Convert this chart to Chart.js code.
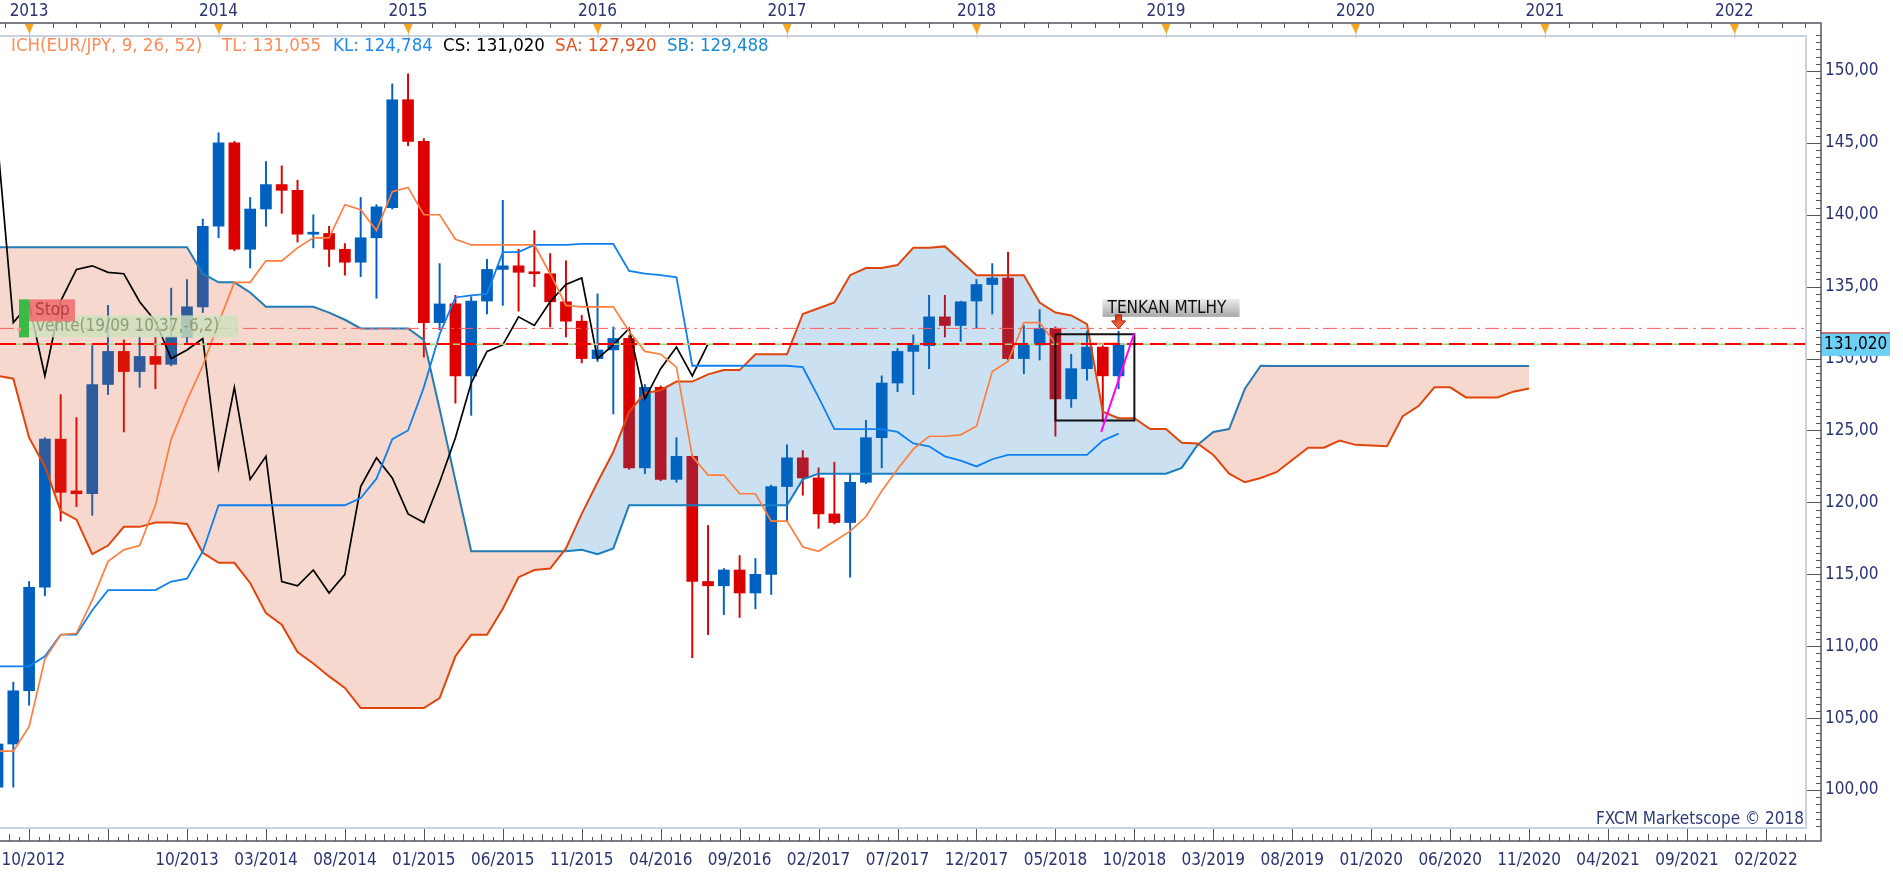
<!DOCTYPE html>
<html>
<head>
<meta charset="utf-8">
<title>EUR/JPY Ichimoku</title>
<script src="https://cdn.jsdelivr.net/npm/chart.js@4.4.1/dist/chart.umd.min.js"></script>
<style>
  html, body { margin: 0; padding: 0; background: #fff; overflow: hidden; }
  #wrap { width: 1903px; height: 874px; }
</style>
</head>
<body>
<div id="wrap"><canvas id="ich"></canvas></div>
<script>
// x is a month index: 0 sits under the "2013" marker, one step per candle
var firstIdx = -2;

var opens = [100.2, 103.2, 106.9, 114.1, 124.4, 120.8, 120.6, 128.2, 130.5, 129.1, 130.15, 129.6, 131.5, 133.6,
  139.2, 145.0, 137.6, 140.4, 142.1, 141.7, 138.65, 138.7, 137.6, 136.7, 138.4, 140.5,
  148.0, 145.1, 132.5, 133.8, 128.8, 134.0, 136.2, 136.45, 136.0, 135.9, 133.95, 132.6,
  130.0, 130.6, 131.4, 122.4, 128.0, 121.6, 123.2, 114.5, 114.2, 115.3, 113.7, 115.0,
  121.1, 123.1, 121.7, 119.2, 118.6, 121.4, 124.5, 128.3, 130.5, 130.9, 132.9, 132.3,
  134.0, 135.15, 135.6, 130.0, 130.95, 132.1, 127.2, 129.3, 130.8, 128.8];
var highs = [103.4, 107.5, 114.5, 124.5, 127.5, 125.9, 130.9, 133.7, 131.3, 131.5, 131.5, 134.9, 135.5, 139.7,
  145.7, 145.1, 141.2, 143.7, 143.4, 142.4, 140.0, 139.2, 138.0, 141.2, 140.7, 149.1,
  149.8, 145.3, 136.6, 134.4, 134.3, 136.9, 141.0, 137.6, 138.9, 137.3, 136.8, 133.0,
  134.5, 132.2, 131.6, 128.2, 128.1, 124.5, 123.3, 118.4, 115.4, 116.3, 116.1, 121.2,
  124.0, 123.6, 122.4, 122.8, 122.0, 125.7, 128.8, 130.7, 131.65, 134.4, 134.4, 134.0,
  135.5, 136.6, 137.4, 132.3, 133.4, 132.2, 130.3, 131.9, 130.9, 131.9];
var lows = [99.9, 100.2, 105.9, 113.5, 118.7, 119.7, 119.1, 127.5, 124.9, 128.0, 127.9, 129.5, 131.0, 133.2,
  138.4, 137.5, 136.3, 139.2, 140.1, 138.1, 137.7, 136.4, 135.8, 135.7, 134.2, 140.4,
  144.8, 130.1, 132.0, 126.9, 126.05, 133.1, 133.7, 133.3, 135.0, 132.2, 131.5, 129.7,
  129.8, 126.15, 122.3, 122.0, 121.5, 121.4, 109.2, 110.8, 112.2, 112.0, 112.6, 113.6,
  118.7, 120.5, 118.2, 118.5, 114.8, 121.3, 122.4, 127.7, 127.5, 129.3, 131.5, 131.2,
  132.1, 133.1, 129.9, 128.95, 129.9, 124.6, 126.6, 128.5, 125.6, 127.9];
var closes = [103.2, 106.9, 114.1, 124.4, 120.7, 120.6, 128.2, 130.5, 129.1, 130.15, 129.6, 131.5, 133.6, 139.2,
  145.0, 137.6, 140.4, 142.1, 141.7, 138.65, 138.7, 137.6, 136.7, 138.4, 140.55, 148.0,
  145.1, 132.5, 133.8, 128.8, 134.0, 136.2, 136.45, 136.0, 135.9, 133.95, 132.6, 130.0,
  130.6, 131.4, 122.4, 128.0, 121.6, 123.2, 114.5, 114.2, 115.3, 113.7, 115.0, 121.1,
  123.1, 121.7, 119.2, 118.6, 121.4, 124.5, 128.3, 130.5, 130.95, 132.9, 132.3, 133.95,
  135.15, 135.6, 130.0, 130.95, 132.1, 127.2, 129.3, 130.8, 128.8, 131.02];

// Tenkan (TL) and Kijun (KL), same months as the candles
var tenkan = [102.7, 102.7, 104.4, 109.1, 110.8, 110.9, 113.2, 115.9, 116.7, 117.0, 119.8, 124.4, 127.1, 129.5,
  132.5, 135.3, 135.3, 136.8, 136.8, 137.7, 138.4, 138.4, 140.7, 140.35, 138.9, 141.6,
  141.9, 140.0, 140.0, 138.3, 137.9, 137.9, 137.9, 137.9, 137.9, 135.9, 133.7, 133.6,
  133.6, 133.6, 131.9, 130.5, 130.3, 129.4, 123.2, 121.9, 121.9, 120.6, 120.6, 118.7,
  118.7, 116.9, 116.6, 117.3, 118.0, 119.0, 120.8, 122.3, 123.7, 124.6, 124.6, 124.7,
  125.3, 129.1, 129.8, 132.5, 132.5, 131.05, 131.05, 131.05, 131.05, 131.055];
var kijun = [108.6, 108.6, 108.6, 109.3, 110.8, 110.8, 112.5, 113.9, 113.9, 113.9, 113.9, 114.5, 114.7, 116.6,
  119.8, 119.8, 119.8, 119.8, 119.8, 119.8, 119.8, 119.8, 119.8, 120.3, 121.65, 124.4,
  125.0, 128.0, 131.7, 134.25, 134.4, 134.5, 137.4, 137.4, 137.9, 137.9, 137.9, 137.97,
  137.97, 137.97, 136.1, 135.9, 135.8, 135.65, 129.5, 129.5, 129.5, 129.5, 129.5, 129.5,
  129.5, 129.4, 127.3, 125.1, 125.1, 125.1, 125.1, 124.9, 124.1, 123.9, 123.2, 122.9,
  122.5, 123.0, 123.3, 123.3, 123.3, 123.3, 123.3, 123.3, 124.3, 124.784];
// Chikou (CS), from month -2 to month 43
var chikou = [145.1, 132.5, 133.8, 128.8, 134.0, 136.2, 136.45, 136.0, 135.9, 133.95, 132.6, 130.0,
  130.6, 131.4, 122.4, 128.0, 121.6, 123.2, 114.5, 114.2, 115.3, 113.7, 115.0, 121.1,
  123.1, 121.7, 119.2, 118.6, 121.4, 124.5, 128.3, 130.5, 130.95, 132.9, 132.3, 133.95,
  135.15, 135.6, 130.0, 130.95, 132.1, 127.2, 129.3, 130.8, 128.8, 131.02];
// Senkou A / B, from month -2 to month 95
var senkouA = [128.8, 128.6, 124.5, 122.5, 119.4, 118.8, 116.4, 117.0, 118.3, 118.3, 118.6, 118.6, 118.5,
  116.5, 115.8, 115.8, 114.4, 112.3, 111.5, 109.6, 108.8, 107.9, 107.1, 105.7, 105.7,
  105.7, 105.7, 105.7, 106.4, 109.3, 110.8, 110.8, 112.6, 114.8, 115.3, 115.4, 116.8,
  119.2, 121.4, 123.5, 126.3, 127.6, 127.8, 128.4, 128.4, 128.9, 129.2, 129.2, 130.3,
  130.3, 130.3, 133.1, 133.5, 133.9, 135.8, 136.3, 136.3, 136.5, 137.7, 137.7, 137.8,
  136.8, 135.8, 135.8, 135.8, 135.8, 133.9, 133.2, 133.0, 132.4, 126.3, 125.85, 125.85,
  125.1, 125.1, 124.15, 124.1, 123.3, 122.0, 121.4, 121.7, 122.1, 122.95, 123.8, 123.8,
  124.3, 124.0, 123.95, 123.9, 126.0, 126.7, 128.0, 128.0, 127.3, 127.3, 127.3, 127.7, 127.92];
var senkouB = [137.74, 137.74, 137.74, 137.74, 137.74, 137.74, 137.74, 137.74, 137.74, 137.74, 137.74, 137.74, 137.74,
  135.9, 135.3, 135.3, 134.6, 133.6, 133.6, 133.6, 133.6, 133.2, 132.7, 132.1, 132.1,
  132.1, 132.1, 131.3, 126.5, 121.5, 116.6, 116.6, 116.6, 116.6, 116.6, 116.6, 116.6,
  116.7, 116.4, 116.8, 119.8, 119.8, 119.8, 119.8, 119.8, 119.8, 119.8, 119.8, 119.8,
  119.8, 119.8, 121.6, 122.0, 122.0, 122.0, 122.0, 122.0, 122.0, 122.0, 122.0, 122.0,
  122.0, 122.0, 122.0, 122.0, 122.0, 122.0, 122.0, 122.0, 122.0, 122.0, 122.0, 122.0,
  122.0, 122.0, 122.4, 124.0, 124.9, 125.1, 127.9, 129.5, 129.488, 129.488, 129.488, 129.488,
  129.488, 129.488, 129.488, 129.488, 129.488, 129.488, 129.488, 129.488, 129.488, 129.488, 129.488, 129.488, 129.488];

// levels and drawing tools on the chart
var lastClose = 131.02;
var stopLevel = 132.1;
var venteLevel = 131.0;
var boxIdx = [65, 70];
var boxVal = [125.7, 131.7];
var trendIdx = [67.9, 70.0];
var trendVal = [124.9, 131.8];
var tagIdx = 69;
var tagVal = 132.9;

// axes
var viewMin = -1.843, viewMax = 112.6;
var yMin = 97.29, yMax = 152.5;
var yTicks = [100, 105, 110, 115, 120, 125, 130, 135, 140, 145, 150];
var yearIdx = [0, 12, 24, 36, 48, 60, 72, 84, 96, 108];
var yearLabels = ['2013', '2014', '2015', '2016', '2017', '2018', '2019', '2020', '2021', '2022'];
var monthIdx = [0.27, 10, 15, 20, 25, 30, 35, 40, 45, 50, 55, 60, 65, 70, 75, 80, 85, 90, 95, 100, 105, 110];
var monthLabels = ['10/2012', '10/2013', '03/2014', '08/2014', '01/2015', '06/2015', '11/2015', '04/2016',
  '09/2016', '02/2017', '07/2017', '12/2017', '05/2018', '10/2018', '03/2019', '08/2019', '01/2020',
  '06/2020', '11/2020', '04/2021', '09/2021', '02/2022'];

var fam = '"DejaVu Sans Condensed", "Liberation Sans", sans-serif';
var tickFont = { family: fam, size: 17 };
var axisInk = '#2b3470';

function series(vals) {
  return vals.map(function (v, k) { return { x: firstIdx + k, y: v }; });
}
function flat(level) {
  return [{ x: viewMin, y: level }, { x: viewMax, y: level }];
}

var bodies = closes.map(function (c, k) { return { x: firstIdx + k, y: [opens[k], c] }; });
var wicks = closes.map(function (c, k) { return { x: firstIdx + k, y: [lows[k], highs[k]] }; });
var candleColor = closes.map(function (c, k) { return c >= opens[k] ? '#0060bf' : '#dd0000'; });

function line(data, color, width, order) {
  return { type: 'line', data: data, borderColor: color, borderWidth: width, pointRadius: 0,
    tension: 0, fill: false, order: order, xAxisID: 'x', yAxisID: 'y' };
}

var datasets = [
  { type: 'bar', data: wicks, backgroundColor: candleColor, barThickness: 1.3, grouped: false, order: 20, xAxisID: 'x', yAxisID: 'y' },
  { type: 'bar', data: bodies, backgroundColor: candleColor, barThickness: 11, grouped: false, minBarLength: 2, order: 19, xAxisID: 'x', yAxisID: 'y' },
  line(series(senkouB), '#1581c4', 2, 12),
  line(series(senkouA), '#e0460c', 2, 11),
  line(series(chikou), '#000000', 1.7, 6),
  line(series(kijun), '#0f80f0', 1.8, 5),
  line(series(tenkan), '#ff7e3e', 1.7, 4),
  line(flat(venteLevel), '#a9d18e', 1.5, 3),
  line(flat(lastClose), '#ff0000', 2, 2),
  line(flat(stopLevel), '#ff5a5a', 1, 2),
  line([{ x: boxIdx[0], y: boxVal[1] }, { x: boxIdx[1], y: boxVal[1] }, { x: boxIdx[1], y: boxVal[0] },
        { x: boxIdx[0], y: boxVal[0] }, { x: boxIdx[0], y: boxVal[1] }], '#111111', 2, 1),
  line([{ x: trendIdx[0], y: trendVal[0] }, { x: trendIdx[1], y: trendVal[1] }], '#ff00ff', 2, 0)
];
datasets[3].fill = { target: 2, above: 'rgba(12,116,194,0.216)', below: 'rgba(213,75,34,0.216)' };
datasets[8].borderDash = [16, 7];
datasets[9].borderDash = [14, 5, 3, 5];

var frame = {
  id: 'frame',
  afterDraw: function (chart) {
    var ctx = chart.ctx, a = chart.chartArea;
    var xs = chart.scales.x, ys = chart.scales.y;
    var topY = a.top - 12, botY = a.bottom + 12, rightX = a.right + 14;
    var k, px, py, len;
    ctx.save();

    // light plot border
    ctx.strokeStyle = '#c9d2de';
    ctx.lineWidth = 2;
    ctx.beginPath();
    ctx.moveTo(a.left, a.top + 1);
    ctx.lineTo(a.right - 1, a.top + 1);
    ctx.lineTo(a.right - 1, a.bottom - 1);
    ctx.lineTo(a.left, a.bottom - 1);
    ctx.stroke();

    // axis frame
    ctx.strokeStyle = '#50555f';
    ctx.lineWidth = 1.5;
    ctx.beginPath();
    ctx.moveTo(a.left, topY);
    ctx.lineTo(rightX, topY);
    ctx.lineTo(rightX, botY);
    ctx.lineTo(a.left, botY);
    ctx.stroke();

    // tick marks
    ctx.lineWidth = 1;
    ctx.beginPath();
    for (k = Math.ceil(viewMin / 0.625); k * 0.625 <= viewMax; k++) {
      px = Math.round(xs.getPixelForValue(k * 0.625)) + 0.5;
      len = k % 8 === 0 ? 12 : (k % 2 === 0 ? 7 : 4);
      ctx.moveTo(px, botY);
      ctx.lineTo(px, botY - len);
    }
    for (k = Math.ceil(viewMin / 1.5); k * 1.5 <= viewMax; k++) {
      if (k % 8 === 0) continue;
      px = Math.round(xs.getPixelForValue(k * 1.5)) + 0.5;
      ctx.moveTo(px, topY);
      ctx.lineTo(px, topY + 5);
    }
    for (k = Math.ceil(yMin / 0.5); k * 0.5 <= yMax; k++) {
      py = Math.round(ys.getPixelForValue(k * 0.5)) + 0.5;
      len = k % 10 === 0 ? 14 : 5;
      ctx.moveTo(rightX, py);
      ctx.lineTo(rightX - len, py);
    }
    ctx.stroke();

    // year markers on the top axis
    yearIdx.forEach(function (v) {
      var p = xs.getPixelForValue(v);
      ctx.strokeStyle = '#c4c4c4';
      ctx.beginPath();
      ctx.moveTo(p + 0.5, topY + 9);
      ctx.lineTo(p + 0.5, a.top + 3);
      ctx.stroke();
      ctx.fillStyle = '#f6a623';
      ctx.beginPath();
      ctx.moveTo(p - 4.5, topY + 1);
      ctx.lineTo(p + 4.5, topY + 1);
      ctx.lineTo(p + 0.5, topY + 11);
      ctx.closePath();
      ctx.fill();
    });

    // indicator legend
    ctx.font = '18.5px ' + fam;
    ctx.textBaseline = 'middle';
    ctx.textAlign = 'left';
    [['ICH(EUR/JPY, 9, 26, 52)', 11, '#fb8d58'], ['TL: 131,055', 222, '#fb8d58'],
     ['KL: 124,784', 333, '#1e88ee'], ['CS: 131,020', 443, '#000000'],
     ['SA: 127,920', 555, '#e4501c'], ['SB: 129,488', 667, '#1a8bd2']].forEach(function (t) {
      ctx.fillStyle = t[2];
      ctx.fillText(t[0], t[1], a.top + 11);
    });

    // order labels on the left
    ctx.font = '17px ' + fam;
    var sp = ys.getPixelForValue(stopLevel);
    ctx.fillStyle = '#3cba48';
    ctx.fillRect(a.left + 19, sp - 29, 10, 38);
    ctx.fillStyle = 'rgba(205,226,190,0.8)';
    ctx.fillRect(a.left + 29, sp - 13, 209, 22);
    ctx.fillStyle = '#8e9f76';
    ctx.fillText('vente(19/09 10:37,-6,2)', a.left + 36, sp - 2);
    ctx.fillStyle = 'rgba(240,112,112,0.9)';
    ctx.fillRect(a.left + 29, sp - 29, 46, 22);
    ctx.fillStyle = 'rgba(150,35,35,0.7)';
    ctx.fillText('Stop', a.left + 35, sp - 18);
    ctx.fillStyle = '#f49a9a';
    ctx.beginPath();
    ctx.arc(a.left + 19, sp + 1, 2, 0, Math.PI * 2);
    ctx.fill();

    // TENKAN tag with arrow
    var tx = xs.getPixelForValue(tagIdx), ty = ys.getPixelForValue(tagVal);
    var g = ctx.createLinearGradient(0, ty - 18, 0, ty);
    g.addColorStop(0, '#ededed');
    g.addColorStop(1, '#a8a8a8');
    ctx.fillStyle = g;
    ctx.fillRect(tx - 16, ty - 18, 137, 18);
    ctx.fillStyle = '#111111';
    ctx.fillText('TENKAN MTLHY', tx - 11, ty - 8.5);
    var ag = ctx.createLinearGradient(0, ty - 2, 0, ty + 12);
    ag.addColorStop(0, '#d8301c');
    ag.addColorStop(1, '#f27a45');
    ctx.fillStyle = ag;
    ctx.strokeStyle = '#b02010';
    ctx.lineWidth = 1;
    ctx.beginPath();
    ctx.moveTo(tx - 3, ty - 2);
    ctx.lineTo(tx + 3, ty - 2);
    ctx.lineTo(tx + 3, ty + 4);
    ctx.lineTo(tx + 7, ty + 4);
    ctx.lineTo(tx, ty + 12);
    ctx.lineTo(tx - 7, ty + 4);
    ctx.lineTo(tx - 3, ty + 4);
    ctx.closePath();
    ctx.fill();
    ctx.stroke();

    // last price on the price axis
    var lp = ys.getPixelForValue(lastClose);
    ctx.fillStyle = '#6ccff6';
    ctx.fillRect(rightX + 1, lp - 11, 68, 23);
    ctx.strokeStyle = '#e00000';
    ctx.beginPath();
    ctx.moveTo(rightX, lp - 11);
    ctx.lineTo(rightX + 69, lp - 11);
    ctx.stroke();
    ctx.fillStyle = '#000000';
    ctx.fillText('131,020', rightX + 3, lp + 1);

    // copyright
    ctx.textAlign = 'right';
    ctx.textBaseline = 'alphabetic';
    ctx.fillStyle = '#2d3a78';
    ctx.fillText('FXCM Marketscope \u00a9 2018', a.right - 3, a.bottom - 5);
    ctx.restore();
  }
};

function noPad(s) {
  s.paddingLeft = 0; s.paddingRight = 0; s.paddingTop = 0; s.paddingBottom = 0;
}

new Chart(document.getElementById('ich').getContext('2d'), {
  type: 'bar',
  data: { datasets: datasets },
  options: {
    responsive: true,
    maintainAspectRatio: false,
    animation: false,
    layout: { padding: 0 },
    plugins: { legend: { display: false }, tooltip: { enabled: false } },
    scales: {
      x: {
        type: 'linear', position: 'bottom', min: viewMin, max: viewMax, offset: false,
        grid: { display: false, drawTicks: false }, border: { display: false },
        afterBuildTicks: function (s) { s.ticks = monthIdx.map(function (v) { return { value: v }; }); },
        afterFit: function (s) { s.height = 45; noPad(s); },
        ticks: { autoSkip: false, maxRotation: 0, padding: 21, color: axisInk, font: tickFont,
          callback: function (v, k) { return monthLabels[k]; } }
      },
      xTop: {
        type: 'linear', axis: 'x', position: 'top', min: viewMin, max: viewMax, offset: false,
        grid: { display: false, drawTicks: false }, border: { display: false },
        afterBuildTicks: function (s) { s.ticks = yearIdx.map(function (v) { return { value: v }; }); },
        afterFit: function (s) { s.height = 35; noPad(s); },
        ticks: { autoSkip: false, maxRotation: 0, padding: 13, color: axisInk, font: { family: fam, size: 17 },
          callback: function (v, k) { return yearLabels[k]; } }
      },
      y: {
        type: 'linear', position: 'right', min: yMin, max: yMax,
        grid: { display: false, drawTicks: false }, border: { display: false },
        afterBuildTicks: function (s) { s.ticks = yTicks.map(function (v) { return { value: v }; }); },
        afterFit: function (s) { s.width = 96; noPad(s); },
        ticks: { autoSkip: false, padding: 18, color: axisInk, font: tickFont,
          callback: function (v) { return v.toFixed(2).replace('.', ','); } }
      }
    }
  },
  plugins: [frame]
});
</script>
</body>
</html>
